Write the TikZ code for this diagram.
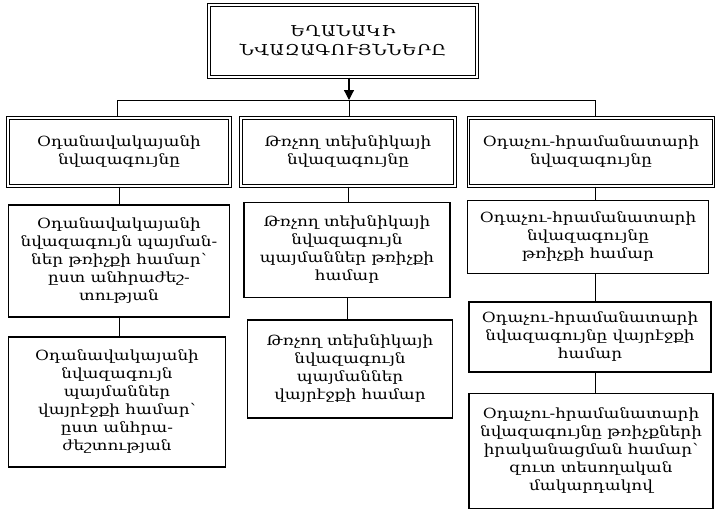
\documentclass[tikz,border=0pt]{standalone}
\usepackage{fontspec}
\setmainfont[FakeStretch=1.2]{DejaVu Serif}
\usetikzlibrary{arrows.meta}

\begin{document}
\begin{tikzpicture}[
    x=1pt, y=-1pt,
    every node/.style={font=\fontsize{14}{18}\selectfont},
    headbox/.style={
        draw,
        double,
        double distance=1.5pt,
        line width=1.1pt,
        align=center
    },
    itembox/.style={
        draw,
        line width=1.2pt,
        align=center
    },
    link/.style={line width=1pt},
    arr/.style={-{Triangle[width=10pt,length=10pt]}, line width=1.2pt}
]
    \useasboundingbox (0,0) rectangle (716,512);

    % Top
    \node[headbox, minimum width=268pt, minimum height=72pt,
        font=\fontsize{15}{19}\selectfont\addfontfeature{LetterSpace=4}]
        (weather) at (343,41) {ԵՂԱՆԱԿԻ\\ ՆՎԱԶԱԳՈՒՅՆՆԵՐԸ};

    % Groups
    \node[headbox, minimum width=222pt, minimum height=68pt]
        (airport) at (119,152) {Օդանավակայանի\\ նվազագույնը};
    \node[headbox, minimum width=214pt, minimum height=68pt]
        (aircraft) at (348,152) {Թռչող տեխնիկայի\\ նվազագույնը};
    \node[headbox, minimum width=245pt, minimum height=68pt]
        (pilot) at (591,152) {Օդաչու-հրամանատարի\\ նվազագույնը};

    % Airport column
    \node[itembox, minimum width=221pt, minimum height=112pt]
        (airporttakeoff) at (119,261) {Օդանավակայանի\\ նվազագույն պայման-\\ներ թռիչքի համար՝\\ ըստ անհրաժեշ-\\տության};
    \node[itembox, minimum width=217pt, minimum height=130pt]
        (airportlanding) at (117,402) {Օդանավակայանի\\ նվազագույն\\ պայմաններ\\ վայրէջքի համար՝\\ ըստ անհրա-\\ժեշտության};

    % Aircraft column
    \node[itembox, minimum width=206pt, minimum height=95pt]
        (aircrafttakeoff) at (347,250) {Թռչող տեխնիկայի\\ նվազագույն\\ պայմաններ թռիչքի\\ համար};
    \node[itembox, minimum width=205pt, minimum height=98pt]
        (aircraftlanding) at (350,369) {Թռչող տեխնիկայի\\ նվազագույն\\ պայմաններ\\ վայրէջքի համար};

    % Pilot column
    \node[itembox, minimum width=241pt, minimum height=73pt]
        (pilottakeoff) at (588,237) {Օդաչու-հրամանատարի\\ նվազագույնը\\ թռիչքի համար};
    \node[itembox, minimum width=242pt, minimum height=70pt]
        (pilotlanding) at (590,337) {Օդաչու-հրամանատարի\\ նվազագույնը վայրէջքի\\ համար};
    \node[itembox, minimum width=244pt, minimum height=115pt]
        (pilotvisual) at (591,451) {Օդաչու-հրամանատարի\\ նվազագույնը թռիչքների\\ իրականացման համար՝\\ զուտ տեսողական\\ մակարդակով};

    % Bus
    \coordinate (busleft) at (117,100);
    \coordinate (busmid) at (349,100);
    \coordinate (busright) at (595,100);
    \draw[arr] (weather.south -| busmid) -- (busmid);
    \draw[link] (busleft) -- (busright);
    \draw[link] (busleft) -- (busleft |- airport.north);
    \draw[link] (busmid) -- (busmid |- aircraft.north);
    \draw[link] (busright) -- (busright |- pilot.north);

    % Columns
    \draw[link] (airport.south) -- (airport.south |- airporttakeoff.north);
    \draw[link] (airporttakeoff.south) -- (airporttakeoff.south |- airportlanding.north);
    \draw[link] (aircraft.south) -- (aircraft.south |- aircrafttakeoff.north);
    \draw[link] (aircrafttakeoff.south) -- (aircrafttakeoff.south |- aircraftlanding.north);
    \draw[link] (pilot.south -| busright) -- (busright |- pilottakeoff.north);
    \draw[link] (pilottakeoff.south -| busright) -- (busright |- pilotlanding.north);
    \draw[link] (pilotlanding.south -| busright) -- (busright |- pilotvisual.north);

\end{tikzpicture}
\end{document}
